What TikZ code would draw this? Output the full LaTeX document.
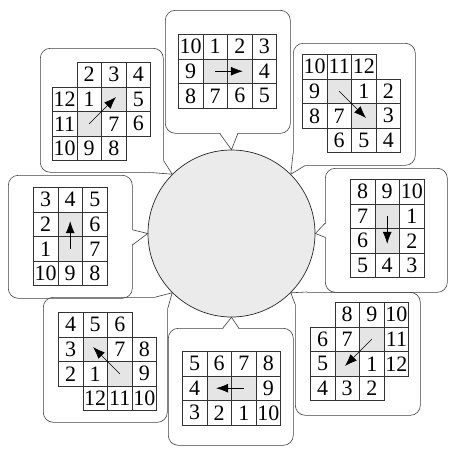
\documentclass[tikz,border=0pt]{standalone}
\usepackage{fontspec}
\setmainfont{Liberation Serif}
\usetikzlibrary{positioning,calc,arrows.meta}
\newcommand{\cellsz}{24.6}

\begin{document}
\begin{tikzpicture}[x=1pt,y=-1pt,
    bubble/.style={draw=black!75, line width=0.6pt, rounded corners=10pt, anchor=north west, inner sep=0pt},
    tail/.style={draw=black!75, line width=0.6pt},
    hubdisc/.style={circle, draw=black!85, line width=0.7pt, fill=black!8, minimum size=167pt, inner sep=0pt},
    cell/.style={draw=black!80, line width=0.6pt, minimum width=\cellsz pt, minimum height=\cellsz pt,
                 anchor=north west, inner sep=0pt, font=\fontsize{22}{22}\selectfont},
    dotcell/.style={cell, fill=black!10},
    move/.style={line width=0.6pt, -{Latex[length=12pt,width=9pt]}, shorten >=-3pt}]
    \useasboundingbox (0,0) rectangle (449,448);

    % Centre disc
    \node[hubdisc] (hub) at (231.5,233.5) {};

    % Bubbles
    \node[bubble, minimum width=125pt, minimum height=123pt] (bT)  at (165,10)  {};
    \node[bubble, minimum width=123pt, minimum height=124pt] (bTL) at (40,48)   {};
    \node[bubble, minimum width=122pt, minimum height=122pt] (bTR) at (293,43)  {};
    \node[bubble, minimum width=124pt, minimum height=123pt] (bL)  at (8,175)   {};
    \node[bubble, minimum width=122pt, minimum height=124pt] (bR)  at (325,168) {};
    \node[bubble, minimum width=124pt, minimum height=125pt] (bBL) at (43,297)  {};
    \node[bubble, minimum width=125pt, minimum height=117pt] (bB)  at (168,328) {};
    \node[bubble, minimum width=125pt, minimum height=123pt] (bBR) at (295,292) {};

    % Side tails
    \fill[white] ($(bT.south)+(-8,-1.5)$) -- (hub.north) -- ($(bT.south)+(10,-1.5)$) -- cycle;
    \draw[tail] ($(bT.south)+(-8,0)$) -- (hub.north) -- ($(bT.south)+(10,0)$);
    \fill[white] ($(bB.north)+(-8,1.5)$) -- (hub.south) -- ($(bB.north)+(8,1.5)$) -- cycle;
    \draw[tail] ($(bB.north)+(-8,0)$) -- (hub.south) -- ($(bB.north)+(8,0)$);
    \fill[white] ($(bL.east)+(-1.5,-7)$) -- (hub.west) -- ($(bL.east)+(-1.5,8)$) -- cycle;
    \draw[tail] ($(bL.east)+(0,-7)$) -- (hub.west) -- ($(bL.east)+(0,8)$);
    \fill[white] ($(bR.west)+(1.5,-7)$) -- (hub.east) -- ($(bR.west)+(1.5,7)$) -- cycle;
    \draw[tail] ($(bR.west)+(0,-7)$) -- (hub.east) -- ($(bR.west)+(0,7)$);

    % Corner tails
    \fill[white] ($(bTL.south east)+(-12,-12)$) -- ($(bTL.south east)+(1,-12)$) -- (hub.north west) -- ($(bTL.south east)+(-12,1)$) -- cycle;
    \draw[tail] ($(bTL.south east)+(0,-12)$) -- (hub.north west) -- ($(bTL.south east)+(-12,0)$);
    \fill[white] ($(bTR.south west)+(12,-12)$) -- ($(bTR.south west)+(-1,-12)$) -- (hub.north east) -- ($(bTR.south west)+(12,1)$) -- cycle;
    \draw[tail] ($(bTR.south west)+(0,-12)$) -- (hub.north east) -- ($(bTR.south west)+(12,0)$);
    \fill[white] ($(bBL.north east)+(-12,12)$) -- ($(bBL.north east)+(1,12)$) -- (hub.south west) -- ($(bBL.north east)+(-12,-1)$) -- cycle;
    \draw[tail] ($(bBL.north east)+(0,12)$) -- (hub.south west) -- ($(bBL.north east)+(-12,0)$);
    \fill[white] ($(bBR.north west)+(12,12)$) -- ($(bBR.north west)+(-1,12)$) -- (hub.south east) -- ($(bBR.north west)+(12,-1)$) -- cycle;
    \draw[tail] ($(bBR.north west)+(0,12)$) -- (hub.south east) -- ($(bBR.north west)+(12,0)$);

    % Top grid
    \foreach \c/\r in {1/1,2/1}
        \node[dotcell] (t-\c-\r) at ({178+\c*\cellsz},{34+\r*\cellsz}) {};
    \foreach \c/\r/\t in {0/0/10,1/0/1,2/0/2,3/0/3,0/1/9,3/1/4,0/2/8,1/2/7,2/2/6,3/2/5}
        \node[cell] (t-\c-\r) at ({178+\c*\cellsz},{34+\r*\cellsz}) {\t};
    \draw[move] (t-1-1.center) -- (t-2-1.center);

    % Top left grid
    \foreach \c/\r in {2/1,1/2}
        \node[dotcell] (tl-\c-\r) at ({52+\c*\cellsz},{62+\r*\cellsz}) {};
    \foreach \c/\r/\t in {1/0/2,2/0/3,3/0/4,0/1/12,1/1/1,3/1/5,0/2/11,2/2/7,3/2/6,0/3/10,1/3/9,2/3/8}
        \node[cell] (tl-\c-\r) at ({52+\c*\cellsz},{62+\r*\cellsz}) {\t};
    \draw[move] (tl-1-2.center) -- (tl-2-1.center);

    % Top right grid
    \foreach \c/\r in {1/1,2/2}
        \node[dotcell] (tr-\c-\r) at ({302+\c*\cellsz},{54+\r*\cellsz}) {};
    \foreach \c/\r/\t in {0/0/10,1/0/11,2/0/12,0/1/9,2/1/1,3/1/2,0/2/8,1/2/7,3/2/3,1/3/6,2/3/5,3/3/4}
        \node[cell] (tr-\c-\r) at ({302+\c*\cellsz},{54+\r*\cellsz}) {\t};
    \draw[move] (tr-1-1.center) -- (tr-2-2.center);

    % Left grid
    \foreach \c/\r in {1/1,1/2}
        \node[dotcell] (l-\c-\r) at ({33+\c*\cellsz},{187+\r*\cellsz}) {};
    \foreach \c/\r/\t in {0/0/3,1/0/4,2/0/5,0/1/2,2/1/6,0/2/1,2/2/7,0/3/10,1/3/9,2/3/8}
        \node[cell] (l-\c-\r) at ({33+\c*\cellsz},{187+\r*\cellsz}) {\t};
    \draw[move] (l-1-2.center) -- (l-1-1.center);

    % Right grid
    \foreach \c/\r in {1/1,1/2}
        \node[dotcell] (r-\c-\r) at ({350+\c*\cellsz},{179+\r*\cellsz}) {};
    \foreach \c/\r/\t in {0/0/8,1/0/9,2/0/10,0/1/7,2/1/1,0/2/6,2/2/2,0/3/5,1/3/4,2/3/3}
        \node[cell] (r-\c-\r) at ({350+\c*\cellsz},{179+\r*\cellsz}) {\t};
    \draw[move] (r-1-1.center) -- (r-1-2.center);

    % Bottom left grid
    \foreach \c/\r in {1/1,2/2}
        \node[dotcell] (bl-\c-\r) at ({58+\c*\cellsz},{312+\r*\cellsz}) {};
    \foreach \c/\r/\t in {0/0/4,1/0/5,2/0/6,0/1/3,2/1/7,3/1/8,0/2/2,1/2/1,3/2/9,1/3/12,2/3/11,3/3/10}
        \node[cell] (bl-\c-\r) at ({58+\c*\cellsz},{312+\r*\cellsz}) {\t};
    \draw[move] (bl-2-2.center) -- (bl-1-1.center);

    % Bottom grid
    \foreach \c/\r in {1/1,2/1}
        \node[dotcell] (b-\c-\r) at ({182+\c*\cellsz},{351+\r*\cellsz}) {};
    \foreach \c/\r/\t in {0/0/5,1/0/6,2/0/7,3/0/8,0/1/4,3/1/9,0/2/3,1/2/2,2/2/1,3/2/10}
        \node[cell] (b-\c-\r) at ({182+\c*\cellsz},{351+\r*\cellsz}) {\t};
    \draw[move] (b-2-1.center) -- (b-1-1.center);

    % Bottom right grid
    \foreach \c/\r in {2/1,1/2}
        \node[dotcell] (br-\c-\r) at ({310+\c*\cellsz},{302+\r*\cellsz}) {};
    \foreach \c/\r/\t in {1/0/8,2/0/9,3/0/10,0/1/6,1/1/7,3/1/11,0/2/5,2/2/1,3/2/12,0/3/4,1/3/3,2/3/2}
        \node[cell] (br-\c-\r) at ({310+\c*\cellsz},{302+\r*\cellsz}) {\t};
    \draw[move] (br-2-1.center) -- (br-1-2.center);
\end{tikzpicture}
\end{document}
